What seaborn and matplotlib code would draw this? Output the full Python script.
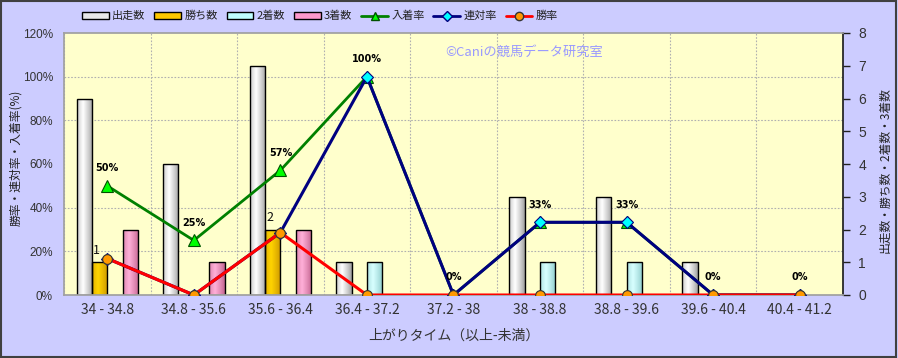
import numpy as np
import pandas as pd
import matplotlib
matplotlib.use("Agg")
import matplotlib.pyplot as plt
from matplotlib.colors import to_rgb
from matplotlib.lines import Line2D
from matplotlib.patches import Patch, Rectangle
import seaborn as sns

# ---- data ----
categories = ["34 - 34.8", "34.8 - 35.6", "35.6 - 36.4", "36.4 - 37.2", "37.2 - 38",
              "38 - 38.8", "38.8 - 39.6", "39.6 - 40.4", "40.4 - 41.2"]
starts = [6, 4, 7, 1, 0, 3, 3, 1, 0]       # 出走数
wins = [1, 0, 2, 0, 0, 0, 0, 0, 0]         # 勝ち数
seconds = [0, 0, 0, 1, 0, 1, 1, 0, 0]      # 2着数
thirds = [2, 1, 2, 0, 0, 0, 0, 0, 0]       # 3着数
win_rate = [16.7, 0, 28.6, 0, 0, 0, 0, 0, 0]              # 勝率
rentai_rate = [16.7, 0, 28.6, 100, 0, 33.3, 33.3, 0, 0]   # 連対率
top3_rate = [50, 25, 57.1, 100, 0, 33.3, 33.3, 0, 0]      # 入着率
top3_labels = ["50%", "25%", "57%", "100%", "0%", "33%", "33%", "0%", "0%"]

bar_series = ["出走数", "勝ち数", "2着数", "3着数"]
bar_values = [starts, wins, seconds, thirds]
bar_colors = ["#E8E8E8", "#FFC800", "#C0FFFF", "#FF99CC"]
bar_dark = ["#9A9A9A", "#C89200", "#88C8C8", "#C0608C"]
bar_light = ["#FFFFFF", "#FFD400", "#D8FFFF", "#FFB0D8"]

sns.set_theme(style="white")
plt.rcParams["font.family"] = ["Noto Sans CJK JP", "DejaVu Sans"]

df = pd.DataFrame({
    "区間": categories * 4,
    "系列": [s for s in bar_series for _ in categories],
    "値": [v for vals in bar_values for v in vals],
})

W, H = 898, 358
fig = plt.figure(figsize=(W / 100, H / 100), dpi=100)
fig.patch.set_facecolor("#CCCCFF")
fig.add_artist(Rectangle((0.001, 0.002), 0.997, 0.995, transform=fig.transFigure,
                         fill=False, edgecolor="#404040", linewidth=1.5))

L, R, T, B = 64, 843, 33, 295
axb = fig.add_axes([L / W, 1 - B / H, (R - L) / W, (B - T) / H])
axb.set_facecolor("#FFFFCC")

sns.barplot(data=df, x="区間", y="値", hue="系列", hue_order=bar_series,
            palette=bar_colors, width=0.71, ax=axb, edgecolor="black",
            linewidth=1.0, legend=False, saturation=1)

# cylinder-like gradients on bars
n = len(categories)
for i, p in enumerate(axb.patches):
    si = i // n
    h = p.get_height()
    if h <= 0:
        p.set_visible(False)
        continue
    x0, w = p.get_x(), p.get_width()
    t = np.linspace(0, 1, 64)
    k = np.clip(1 - np.abs(t - 0.38) / 0.62, 0, 1) ** 0.8
    d = np.array(to_rgb(bar_dark[si]))
    l = np.array(to_rgb(bar_light[si]))
    grad = d[None, :] * (1 - k[:, None]) + l[None, :] * k[:, None]
    im = axb.imshow(grad[None, :, :], extent=(x0, x0 + w, 0, h), aspect="auto",
                    zorder=p.get_zorder() - 0.05, interpolation="bilinear")
    im.set_clip_path(p)
    p.set_facecolor("none")

# ---- lines on left axis ----
axl = axb.twinx()
xpos = np.arange(n)
sns.lineplot(x=xpos, y=top3_rate, ax=axl, color="#008000", linewidth=2,
             marker="^", markersize=8, markerfacecolor="#00FF00",
             markeredgecolor="#005000", markeredgewidth=0.8)
sns.lineplot(x=xpos, y=rentai_rate, ax=axl, color="#000080", linewidth=2.2,
             marker="D", markersize=6, markerfacecolor="#00FFFF",
             markeredgecolor="#000080", markeredgewidth=0.8)
sns.lineplot(x=xpos, y=win_rate, ax=axl, color="#FF0000", linewidth=2.2,
             marker="o", markersize=7, markerfacecolor="#FF9900",
             markeredgecolor="#333333", markeredgewidth=0.8)

# bar axis -> right side
axb.set_xlim(-0.5, n - 0.5)
axb.set_ylim(0, 8)
axb.yaxis.tick_right()
axb.yaxis.set_label_position("right")
axb.set_yticks(range(0, 9))
axb.set_yticks(np.linspace(0, 8, 7), minor=True)
axb.set_xticks(np.arange(-0.5, n, 1.0), minor=True)
axb.grid(False)
axb.grid(True, which="minor", color="#B0B0B0", linestyle=(0, (1.5, 1.5)), linewidth=0.8)
axb.set_axisbelow(True)
axb.tick_params(axis="y", which="major", left=False, labelleft=False, right=True,
                labelright=True, direction="out", length=5, width=1, color="#202020",
                labelsize=10, labelcolor="#333333", pad=6)
axb.tick_params(axis="y", which="minor", length=0, left=False, right=False)
axb.tick_params(axis="x", which="both", length=0, labelsize=10, labelcolor="#333333", pad=6)
for t_ in axb.get_yticklabels():
    t_.set_family("Liberation Sans")
axb.set_xlabel("上がりタイム（以上-未満）", fontsize=10, color="#333333", labelpad=8)
axb.set_ylabel("")
for s in ["top", "left", "bottom"]:
    axb.spines[s].set_color("#A0A0A0")
axb.spines["right"].set_color("#202020")
fig.text(885 / W, 1 - 170 / H, "出走数・勝ち数・2着数・3着数", rotation=90,
         ha="center", va="center", fontsize=8.5, color="#222222")

# line axis -> left side
axl.yaxis.tick_left()
axl.yaxis.set_label_position("left")
axl.set_ylim(0, 120)
axl.set_yticks(range(0, 121, 20))
axl.set_yticklabels([f"{v}%" for v in range(0, 121, 20)])
axl.tick_params(axis="y", which="both", length=0, left=False, right=False,
                labelleft=True, labelright=False,
                labelsize=8.5, labelcolor="#333333", pad=8)
for t_ in axl.get_yticklabels():
    t_.set_family("Liberation Sans")
axl.set_ylabel("")
for s in axl.spines.values():
    s.set_visible(False)
axl.set_xlim(-0.5, n - 0.5)
fig.text(16 / W, 1 - 158 / H, "勝率・連対率・入着率(%)", rotation=90,
         ha="center", va="center", fontsize=8.5, color="#222222")

for i, (v, lab) in enumerate(zip(top3_rate, top3_labels)):
    axl.annotate(lab, (xpos[i], v), xytext=(0, 9), textcoords="offset points",
                 ha="center", va="bottom", fontsize=7, fontweight="bold",
                 color="black", family="DejaVu Sans")

# win count labels above win bars
for j in range(n):
    p = axb.patches[n + j]
    if wins[j] > 0:
        axb.annotate(str(wins[j]), (p.get_x() + p.get_width() / 2, wins[j]),
                     xytext=(-2, 4), textcoords="offset points", ha="center",
                     va="bottom", fontsize=9, color="#111111")

axl.text(0.489, 0.925, "©Caniの競馬データ研究室", transform=axl.transAxes,
         ha="left", va="center", fontsize=9.5, color="#9999FF")

# ---- legend ----
handles = [Patch(facecolor=c, edgecolor="black", linewidth=1) for c in bar_colors]
handles += [
    Line2D([], [], color="#008000", lw=2, marker="^", ms=6, mfc="#00FF00", mec="#005000"),
    Line2D([], [], color="#000080", lw=2, marker="D", ms=5, mfc="#00FFFF", mec="#000080"),
    Line2D([], [], color="#FF0000", lw=2, marker="o", ms=6, mfc="#FF9900", mec="#333333"),
]
labels = bar_series + ["入着率", "連対率", "勝率"]
fig.legend(handles, labels, loc="center left", bbox_to_anchor=(72 / W, 1 - 16 / H),
           ncol=7, frameon=False, fontsize=8, handlelength=2.4, handleheight=0.6,
           handletextpad=0.3, columnspacing=0.8, labelcolor="#222222")

fig.savefig("out.png", dpi=100, facecolor=fig.get_facecolor())
